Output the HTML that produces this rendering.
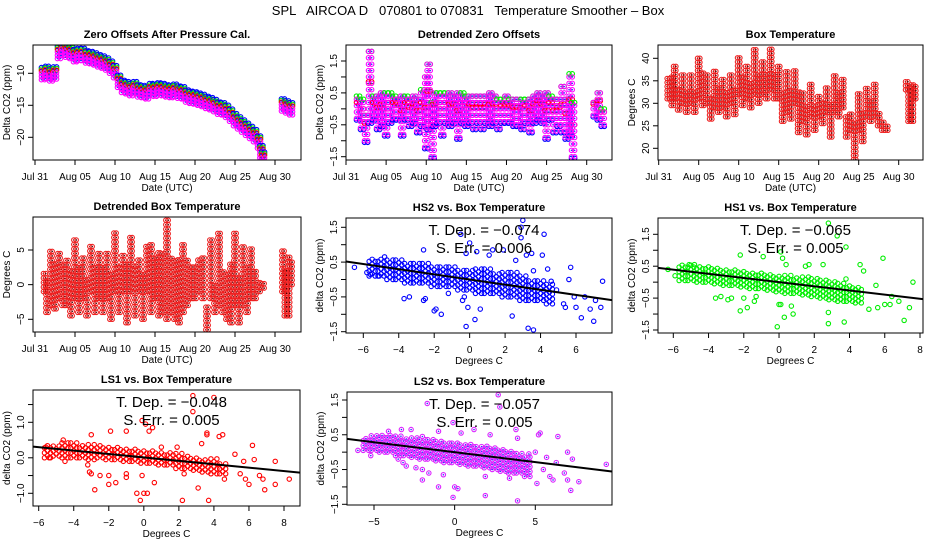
<!DOCTYPE html>
<html><head><meta charset="utf-8"><style>
html,body{margin:0;padding:0;background:#fff}
svg{display:block;font-family:"Liberation Sans",Arial,sans-serif}
</style></head><body>
<svg id="chart" width="936" height="540" viewBox="0 0 936 540" xmlns="http://www.w3.org/2000/svg">
<text x="468" y="15" text-anchor="middle" font-size="13" style="white-space:pre">SPL   AIRCOA D   070801 to 070831   Temperature Smoother – Box</text>
</svg>
<script>
// ---------- data ----------
const p1Days=[1,1.5,2,2.5,3,3.5,4,4.5,5,5.5,6,6.5,7,7.5,8,8.5,9,9.5,10,10.5,11,11.5,12,12.5,13,13.5,14,14.5,15,15.5,16,16.5,17,17.5,18,18.5,19,19.5,20,20.5,21,21.5,22,22.5,23,23.5,24,24.5,25,25.5,26,26.5,27,27.5,28,28.3,28.5,31,31.5,32];
const p1Offsets=[-9.8,-9.6,-10,-9.7,-6.5,-6,-6.3,-6.5,-7,-6.8,-6.8,-7.2,-7.3,-7.5,-7.8,-8,-8.3,-8.8,-9.5,-11,-11.8,-12,-12.3,-12,-12.5,-12.6,-12.8,-12.3,-12.4,-12.2,-12.3,-12.5,-12.6,-12.4,-12.7,-12.8,-13.3,-13.5,-13.6,-13.8,-14,-14.3,-14.5,-14.8,-15.2,-15.3,-15.7,-16.3,-17,-17.5,-18,-18.5,-19,-19.5,-20.5,-22,-23,-14.7,-15,-15.3];

const p2Days=[1.5,2,2.5,3,3.5,4,4.5,5,5.5,6,6.5,7,7.5,8,8.5,9,9.5,10,10.3,10.8,11,11.5,12,12.5,13,13.5,14,14.5,15,15.5,16,16.5,17,17.5,18,18.5,19,19.5,20,20.5,21,21.5,22,22.5,23,23.5,24,24.5,25,25.5,26,26.5,27,27.5,28,28.3,31,31.5,32];
const p2Low=[-0.3,-0.6,-1.0,-0.4,-0.3,-0.6,-0.5,-0.8,-0.4,-0.3,-0.3,-0.8,-0.3,-0.5,-0.4,-0.7,-0.5,-1.2,-0.6,-1.5,-0.5,-0.4,-0.8,-0.4,-0.5,-0.4,-0.9,-0.4,-0.5,-0.4,-0.6,-0.4,-0.6,-0.4,-0.5,-0.4,-0.6,-0.4,-0.4,-0.4,-0.5,-0.5,-0.6,-0.4,-0.7,-0.4,-0.3,-0.4,-0.9,-0.3,-0.7,-0.5,-0.7,-0.9,-0.8,-1.5,-0.2,-0.3,-0.5];
const p2High=[0.4,0.3,-0.2,1.8,0.4,0.4,0.5,0.5,0.5,0.4,0.3,0.4,0.4,0.3,0.4,0.3,0.6,1.0,1.4,0.2,0.5,0.5,0.5,0.5,0.5,0.4,0.5,0.5,0.4,0.4,0.4,0.4,0.4,0.4,0.5,0.4,0.3,0.3,0.4,0.3,0.3,0.3,0.3,0.3,0.3,0.4,0.5,0.4,0.5,0.4,0.3,0.3,0.7,0.3,1.1,0.2,0.2,0.5,0.0];

const p3Days=[1.2,1.7,2,2.5,3,3.5,4,4.5,5,5.5,6,6.5,7,7.5,8,8.5,9,9.5,10,10.5,11,11.5,12,12.5,13,13.5,14,14.5,15,15.5,16,16.5,17,17.5,18,18.5,19,19.5,20,20.5,21,21.5,22,22.5,23,23.5,24,24.5,25,25.5,26,26.5,27,27.5,28,28.5,31,31.3,31.7,32];
const p3Low=[31,29.5,31,28.5,30,28,30,28,31,29.5,30,26.5,29,28,29,27,30,27.5,32,29.5,31,29,32,30,32,31,33,31,31,26,28,26.5,30,23.5,26,23,27,24,27,25.5,28,22.5,28,27,29,22.5,24,17.5,24,21.5,27,26,27,25,24,24,33,26,26,31];
const p3High=[36,36,38.5,33,37,33,37,33,40,37,37,31,37.5,34,36,33,37,33,40.5,36,39,35,42,37,40,37,42,37,39,33,37,33,38,33,33,30,34.5,30,32,30,34,30,36.5,33,35.5,27,28,26,32.5,28,34,31,34.5,28,26,25,35.5,34,34.5,34];

const p4Days=[1.2,1.5,2,2.5,3,3.5,4,4.5,5,5.5,6,6.5,7,7.5,8,8.5,9,9.5,10,10.5,11,11.5,12,12.5,13,13.5,14,14.5,15,15.5,16,16.5,17,17.5,18,18.5,19,19.5,20,20.5,21,21.5,22,22.5,23,23.5,24,24.5,25,25.5,26,26.5,27,27.5,28,28.5,31,31.3,31.7,32];
const p4Low=[-1,-4,-3,-3.5,-2,-3,-3,-4.5,-2,-4,-2,-4.5,-1,-4,-2,-4,-2,-5,-1,-4,-1,-5.5,-1,-4.5,-1,-5,-1,-4,-2,-4.5,-4,-5,-4,-5,-5.5,-4,-3,-2,-2,-1,-2,-6.5,-2,-4,-3,-4,-5,-5.5,-3,-5.5,-3,-4,-2,-2,-1,-0.5,-1,-4.5,-4.5,0];
const p4High=[2,1,5,3,4.5,3,4,2,6.5,3,4,1,6,3,5,3,5,2,7.5,3,4.5,3,7,3,4,2,6,6,4,5,5,9.5,4,4,4,6,4,3,3,4,4,-3,7,0,8,2,2,3,8,1,6,3,5.5,2,0.5,0.3,5,2,4,3.5];

const bandX=[-5.5,-5,-4.5,-4,-3.5,-3,-2.5,-2,-1.5,-1,-0.5,0,0.5,1,1.5,2,2.5,3,3.5,4,4.5];
const hs2Low=[0.1,0.1,0.0,0.0,-0.1,-0.1,-0.1,-0.2,-0.2,-0.2,-0.3,-0.3,-0.4,-0.4,-0.4,-0.5,-0.5,-0.6,-0.6,-0.6,-0.7];
const hs2High=[0.6,0.6,0.6,0.6,0.5,0.5,0.5,0.4,0.4,0.4,0.3,0.3,0.3,0.3,0.2,0.2,0.2,0.1,0.0,0.0,-0.1];
const hs2OutX=[-6.5,-5.8,-5.6,-5.1,-4.8,-3.7,-3.4,-2.6,-2.6,-2.5,-2.0,-1.9,-1.6,-1.2,-0.5,-0.4,-0.3,-0.2,-0.1,0,-0.2,0.3,0.4,0.6,1.1,1.3,1.9,2.6,2.4,2.9,3.0,2.9,3.2,3.3,3.5,3.6,3.6,4.1,4.2,4.4,4.6,4.9,5.3,5.4,5.6,5.7,5.9,6.0,6.3,6.5,6.8,7.0,7.4,7.5,7.1];
const hs2OutY=[0.35,0.2,0.15,0.1,0.65,-0.55,-0.5,0.85,-0.6,-0.55,-0.9,-0.85,-1.0,-0.4,1.3,-0.6,-0.5,0.75,-0.8,1.05,-1.35,-1.15,0.8,-0.85,0.7,0.85,0.85,0.55,-1.05,1.5,1.7,1.2,0.7,-1.4,0.75,-1.45,0.25,0.7,1.3,0.3,-0.05,-0.3,-0.7,-0.8,0.0,0.35,-0.5,-0.8,-1.1,-0.5,-0.85,-1.2,-0.8,-0.05,-0.6];
const hs2Fit=[-0.074,0.0];

const hs1Low=[0.05,0.05,0.0,0.0,-0.05,-0.1,-0.1,-0.15,-0.2,-0.2,-0.25,-0.3,-0.35,-0.35,-0.4,-0.45,-0.5,-0.55,-0.6,-0.6,-0.65];
const hs1High=[0.55,0.55,0.55,0.5,0.5,0.45,0.45,0.4,0.35,0.35,0.3,0.25,0.25,0.2,0.2,0.15,0.1,0.05,0.0,-0.05,-0.1];
const hs1OutX=[-6.3,-5.9,-5.1,-4.8,-3.6,-3.3,-2.9,-2.7,-2.2,-2.2,-2.0,-1.8,-1.4,-1.3,-0.9,-0.1,0,0.1,0.1,0.2,0.3,0.4,0.7,0.8,1.5,1.7,2.5,2.8,2.8,2.8,3.3,3.7,3.8,3.8,4.6,4.8,5.1,5.5,5.6,5.9,6.0,6.4,6.3,6.8,7.1,7.4,7.6];
const hs1OutY=[0.4,0.2,0.55,0.55,-0.5,-0.45,-0.55,-0.5,0.85,-0.9,-0.5,-0.8,-0.6,-0.45,0.8,-1.4,-0.7,-0.7,0.95,0.75,-1.1,0.55,-0.75,-1.0,0.5,0.55,0.55,1.85,-0.95,-1.3,1.45,-1.25,1.1,0.1,0.55,0.35,-0.85,-0.1,-0.8,0.75,-0.7,-0.45,-0.7,-0.6,-1.2,-0.8,0.0];
const hs1Fit=[-0.065,0.0];

const ls1Low=[0.0,0.05,0.0,0.0,0.0,-0.05,0.0,-0.05,-0.05,-0.1,-0.1,-0.15,-0.15,-0.2,-0.2,-0.3,-0.3,-0.35,-0.4,-0.45,-0.45];
const ls1High=[0.35,0.35,0.45,0.45,0.4,0.4,0.35,0.3,0.3,0.25,0.25,0.2,0.2,0.2,0.15,0.15,0.1,0.05,0.0,0.0,-0.15];
const ls1OutX=[-5.6,-5.4,-4.6,-4.5,-3.2,-3.1,-3.0,-3.0,-2.8,-2.5,-2.0,-2.0,-1.9,-1.6,-1.0,-1.0,-1.0,-0.4,-0.2,-0.1,-0.1,0,0.1,0.2,0.3,0.5,0.6,1.0,1.9,2.2,2.3,2.8,2.8,3.1,3.3,3.6,3.6,3.7,4.0,4.3,4.5,4.6,5.2,5.5,5.7,5.8,6.0,6.2,6.3,6.6,6.8,6.9,7.5,7.5,8.3];
const ls1OutY=[0.3,0.0,0.5,-0.1,-0.2,-0.4,-0.45,0.65,-0.9,-0.5,-0.5,-0.75,0.75,-0.7,-0.45,-0.55,0.75,-1.0,-1.2,-0.5,1.05,-1.0,0.95,-1.0,0.75,0.85,-0.7,0.3,0.3,-1.2,-0.45,1.75,1.3,-0.85,0.4,0.65,0.7,-1.2,1.7,0.6,0.65,-0.6,0.1,-0.45,-0.1,-0.6,-0.75,0.35,-0.05,-0.5,-0.6,-0.9,-0.1,-0.75,-0.6];
const ls1Fit=[-0.048,0.01];

const ls2Low=[0.05,0.05,0.0,0.0,-0.1,-0.1,-0.15,-0.2,-0.2,-0.25,-0.3,-0.3,-0.35,-0.4,-0.4,-0.45,-0.5,-0.55,-0.6,-0.6,-0.7];
const ls2High=[0.45,0.5,0.55,0.55,0.5,0.45,0.45,0.4,0.4,0.35,0.3,0.3,0.25,0.25,0.2,0.2,0.15,0.1,0.05,0.0,-0.1];
const ls2OutX=[-6.0,-5.2,-4.1,-3.5,-3.3,-3.2,-3.0,-2.7,-2.4,-2.0,-2.0,-2.0,-1.7,-1.6,-1.0,-1.0,-0.7,-0.1,-0.1,0,0.2,0.4,1.2,1.9,1.9,2.2,2.7,2.8,3.4,3.8,3.9,3.9,4.6,5.0,5.1,5.2,5.3,5.5,5.7,5.9,6.3,6.1,6.4,6.8,7.0,7.0,7.2,7.3,7.7,9.4];
const ls2OutY=[0.05,-0.1,0.6,-0.2,0.65,-0.3,-0.4,0.65,-0.45,-0.5,-0.8,0.45,1.4,-0.6,0.6,-1.0,-0.65,-1.3,0.85,-1.0,-1.05,0.55,0.65,-1.25,-0.7,0.5,1.65,1.3,-0.75,0.65,-1.4,0.4,-0.05,0.0,-0.9,0.5,0.55,-0.5,-0.15,-0.7,-0.3,-0.8,0.45,-0.6,0.0,-0.8,-1.1,-0.2,-0.85,-0.35];
const ls2Fit=[-0.057,0.0];

const dateTicks=[0,5,10,15,20,25,30];
const dateLabels=["Jul 31","Aug 05","Aug 10","Aug 15","Aug 20","Aug 25","Aug 30"];

// ---------- helpers ----------
const NS="http://www.w3.org/2000/svg";
const svg=document.getElementById('chart');
function mk(tag,attrs,parent,name){
  const el=document.createElementNS(NS,tag);
  for(const k in attrs) el.setAttribute(k,attrs[k]);
  
  
  parent.appendChild(el);
  return el;
}
function fmt(v,dec){const s=v.toFixed(dec);return s.replace('-','\u2212');}
let clipId=0;
function panel(p){
  const g=mk('g',{},svg,p.name);
  const sx=v=>p.x0p+(v-p.x0v)*(p.x1p-p.x0p)/(p.x1v-p.x0v);
  const sy=v=>p.y0p+(v-p.y0v)*(p.y1p-p.y0p)/(p.y1v-p.y0v);
  clipId++;
  const defs=mk('defs',{},g,'clip-defs');
  const cp=mk('clipPath',{id:'c'+clipId},defs,'plot-clip');
  mk('rect',{x:p.L,y:p.T,width:p.R-p.L,height:p.B-p.T},cp,'clip-rect');
  const plot=mk('g',{'clip-path':'url(#c'+clipId+')'},g,'plot-area');
  mk('rect',{x:p.L,y:p.T,width:p.R-p.L,height:p.B-p.T,fill:'none',stroke:'#000','stroke-width':1},g,'plot-frame');
  mk('text',{x:(p.L+p.R)/2,y:p.T-7,'text-anchor':'middle','font-size':11,'font-weight':'bold'},g,'panel-title').textContent=p.title;
  mk('text',{x:(p.L+p.R)/2,y:p.B+31,'text-anchor':'middle','font-size':10},g,'x-axis-title').textContent=p.xlab;
  const yl=mk('text',{x:0,y:0,'text-anchor':'middle','font-size':10,transform:'translate('+(p.L-23)+','+((p.T+p.B)/2)+') rotate(-90)'},g,'y-axis-title');
  yl.textContent=p.ylab;
  p.xticks.forEach((v,i)=>{
    const x=sx(v);
    mk('line',{x1:x,x2:x,y1:p.B,y2:p.B+5,stroke:'#000'},g,'x-tick');
    mk('text',{x:x,y:p.B+20,'text-anchor':'middle','font-size':10},g,'x-tick-label').textContent=p.xlabels[i];
  });
  p.yticks.forEach(v=>{
    const y=sy(v);
    mk('line',{x1:p.L-5,x2:p.L,y1:y,y2:y,stroke:'#000'},g,'y-tick');
  });
  p.ylabels.forEach(v=>{
    const y=sy(v);
    mk('text',{x:0,y:0,'text-anchor':'middle','font-size':10,transform:'translate('+(p.L-9)+','+y+') rotate(-90)'},g,'y-tick-label').textContent=fmt(v,p.dec);
  });
  return {g:plot,outer:g,sx,sy,p};
}
function circ(g,x,y,col,name,r){
  mk('circle',{cx:x,cy:y,r:r||2.2,fill:'none',stroke:col,'stroke-width':1.1},g,name);
}
function column(P,t,lo,hi,step,col,name,inner){
  for(let v=lo; v<=hi+1e-9; v+=step){
    circ(P.g,P.sx(t),P.sy(v),col,name);
    if(inner) mk('circle',{cx:P.sx(t),cy:P.sy(v),r:0.8,fill:inner},P.g,name+'-core');
  }
}

// ---------- panel 1 ----------
const P1=panel({name:'zero-offsets-panel',L:33,R:301,T:45,B:160,x0v:0,x0p:35,x1v:30,x1p:275,y0v:-10,y0p:73.3,y1v:-20,y1p:137.3,
 title:'Zero Offsets After Pressure Cal.',xlab:'Date (UTC)',ylab:'Delta CO2 (ppm)',xticks:dateTicks,xlabels:dateLabels,yticks:[-10,-15,-20],ylabels:[-10,-15,-20],dec:0});
p1Days.forEach((t,i)=>{
  const v=p1Offsets[i];
  [-0.2,0.2].forEach(d=>{
    circ(P1.g,P1.sx(t+d),P1.sy(v+0.7),'#0000ff','hs2-point');
    circ(P1.g,P1.sx(t+d),P1.sy(v+0.45),'#00ee00','hs1-point');
    circ(P1.g,P1.sx(t+d),P1.sy(v+0.2),'#ff0000','ls1-point');
    column(P1,t+d,v-1.2,v,0.5,'#ff00ff','ls2-point','#3030ff');
  });
});

// ---------- panel 2 ----------
const P2=panel({name:'detrended-zero-offsets-panel',L:346,R:612,T:45,B:160,x0v:0,x0p:346,x1v:30,x1p:586.7,y0v:1.5,y0p:61,y1v:-1.5,y1p:156.7,
 title:'Detrended Zero Offsets',xlab:'Date (UTC)',ylab:'Delta CO2 (ppm)',xticks:dateTicks,xlabels:dateLabels,yticks:[-1.5,-1,-0.5,0,0.5,1,1.5],ylabels:[-1.5,-0.5,0.5,1.5],dec:1});
p2Days.forEach((t,i)=>{
  const lo=p2Low[i],hi=p2High[i];
  [-0.2,0.2].forEach(d=>{
    circ(P2.g,P2.sx(t+d),P2.sy(lo-0.05),'#0000ff','hs2-point');
    circ(P2.g,P2.sx(t+d),P2.sy(hi),'#00ee00','hs1-point');
    circ(P2.g,P2.sx(t+d),P2.sy((lo+hi)/2+0.15),'#ff0000','ls1-point');
    column(P2,t+d,lo,hi,0.2,'#ff00ff','ls2-point','#3030ff');
  });
});

// ---------- panel 3 ----------
const P3=panel({name:'box-temperature-panel',L:658,R:923,T:45,B:160,x0v:0,x0p:658.7,x1v:30,x1p:898.7,y0v:40,y0p:58.3,y1v:20,y1p:148.3,
 title:'Box Temperature',xlab:'Date (UTC)',ylab:'Degrees C',xticks:dateTicks,xlabels:dateLabels,yticks:[20,25,30,35,40],ylabels:[20,25,30,35,40],dec:0});
p3Days.forEach((t,i)=>{
  [-0.15,0.15].forEach(d=>column(P3,t+d,p3Low[i],p3High[i],0.9,'#ee2020','box-temp-point','#400'));
});

// ---------- panel 4 ----------
const P4=panel({name:'detrended-box-temperature-panel',L:33,R:301,T:217,B:332,x0v:0,x0p:35,x1v:30,x1p:275,y0v:5,y0p:250,y1v:-5,y1p:319.3,
 title:'Detrended Box Temperature',xlab:'Date (UTC)',ylab:'Degrees C',xticks:dateTicks,xlabels:dateLabels,yticks:[-5,0,5],ylabels:[-5,0,5],dec:0});
p4Days.forEach((t,i)=>{
  [-0.15,0.15].forEach(d=>column(P4,t+d,p4Low[i],p4High[i],0.65,'#ee2020','detrended-temp-point','#400'));
});

// ---------- scatter panels ----------
function scatter(P,low,high,ox,oy,fit,col,inner,tdep,serr){
  bandX.forEach((bx,i)=>{
    [-0.17,0,0.17].forEach((dx,k)=>{
      column(P,bx+dx,low[i]+(k%2)*0.06,high[i],0.14,col,'band-point',inner);
    });
  });
  ox.forEach((x,i)=>{
    circ(P.g,P.sx(x),P.sy(oy[i]),col,'outlier-point');
    if(inner) mk('circle',{cx:P.sx(x),cy:P.sy(oy[i]),r:0.8,fill:inner},P.g,'outlier-core');
  });
  const p=P.p;
  const xa=(p.L-p.x0p)/((p.x1p-p.x0p)/(p.x1v-p.x0v))+p.x0v;
  const xb=(p.R-p.x0p)/((p.x1p-p.x0p)/(p.x1v-p.x0v))+p.x0v;
  mk('line',{x1:P.sx(xa),y1:P.sy(fit[1]+fit[0]*xa),x2:P.sx(xb),y2:P.sy(fit[1]+fit[0]*xb),stroke:'#000','stroke-width':2},P.g,'regression-line');
  const cx=(p.L+p.R)/2+5;
  mk('text',{x:cx,y:p.T+17,'text-anchor':'middle','font-size':15},P.outer,'t-dep-annotation').textContent='T. Dep. = \u2212'+tdep;
  mk('text',{x:cx,y:p.T+35,'text-anchor':'middle','font-size':15},P.outer,'s-err-annotation').textContent='S. Err. = '+serr;
}
const P5=panel({name:'hs2-scatter-panel',L:346,R:612,T:218,B:333,x0v:-6,x0p:363.3,x1v:6,x1p:576,y0v:1.5,y0p:227.3,y1v:-1.5,y1p:331.7,
 title:'HS2 vs. Box Temperature',xlab:'Degrees C',ylab:'delta CO2 (ppm)',xticks:[-6,-4,-2,0,2,4,6],xlabels:['\u22126','\u22124','\u22122','0','2','4','6'],yticks:[-1.5,-1,-0.5,0,0.5,1,1.5],ylabels:[-1.5,-0.5,0.5,1.5],dec:1});
scatter(P5,hs2Low,hs2High,hs2OutX,hs2OutY,hs2Fit,'#0000ff',null,'0.074','0.006');

const P6=panel({name:'hs1-scatter-panel',L:658,R:923,T:218,B:333,x0v:-6,x0p:673.3,x1v:8,x1p:920,y0v:1.5,y0p:234.3,y1v:-1.5,y1p:330,
 title:'HS1 vs. Box Temperature',xlab:'Degrees C',ylab:'delta CO2 (ppm)',xticks:[-6,-4,-2,0,2,4,6,8],xlabels:['\u22126','\u22124','\u22122','0','2','4','6','8'],yticks:[-1.5,-1,-0.5,0,0.5,1,1.5],ylabels:[-1.5,-0.5,0.5,1.5],dec:1});
scatter(P6,hs1Low,hs1High,hs1OutX,hs1OutY,hs1Fit,'#00ee00',null,'0.065','0.005');

const P7=panel({name:'ls1-scatter-panel',L:33,R:300,T:390,B:506,x0v:-6,x0p:38.7,x1v:8,x1p:284,y0v:1,y0p:422.3,y1v:-1,y1p:493.3,
 title:'LS1 vs. Box Temperature',xlab:'Degrees C',ylab:'delta CO2 (ppm)',xticks:[-6,-4,-2,0,2,4,6,8],xlabels:['\u22126','\u22124','\u22122','0','2','4','6','8'],yticks:[-1,-0.5,0,0.5,1,1.5],ylabels:[-1,0,1],dec:1});
scatter(P7,ls1Low,ls1High,ls1OutX,ls1OutY,ls1Fit,'#ff0000',null,'0.048','0.005');

const P8=panel({name:'ls2-scatter-panel',L:347,R:612,T:392,B:505,x0v:-5,x0p:374,x1v:5,x1p:535.3,y0v:1.5,y0p:400,y1v:-1.5,y1p:504.3,
 title:'LS2 vs. Box Temperature',xlab:'Degrees C',ylab:'delta CO2 (ppm)',xticks:[-5,0,5],xlabels:['\u22125','0','5'],yticks:[-1.5,-1,-0.5,0,0.5,1,1.5],ylabels:[-1.5,-0.5,0.5,1.5],dec:1});
scatter(P8,ls2Low,ls2High,ls2OutX,ls2OutY,ls2Fit,'#dd22ff','#3030ff','0.057','0.005');
</script>
</body></html>
